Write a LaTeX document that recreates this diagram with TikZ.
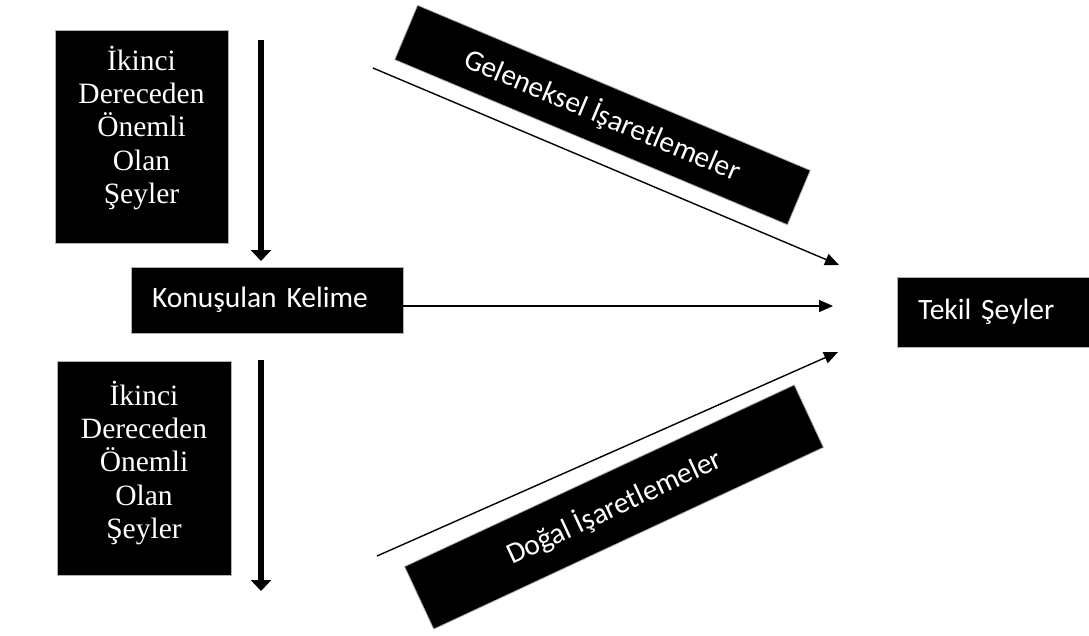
\documentclass[tikz,border=0pt]{standalone}
\usepackage{fontspec}
\setmainfont{Liberation Serif}
\newfontfamily\calibri{Carlito}
\usetikzlibrary{arrows.meta}

\begin{document}
\begin{tikzpicture}[x=1pt, y=-1pt,
    kutu/.style={fill=black, draw=gray!60, line width=0.8pt, inner sep=0pt},
    serifyazi/.style={text=white, align=center, inner sep=0pt, anchor=north, font=\fontsize{29.5}{33.3}\selectfont},
    sansyazi/.style={text=white, font=\calibri\fontsize{29.5}{34}\selectfont},
    kalin ok/.style={line width=6pt, -{Triangle[length=11pt, width=20pt]}},
    ince ok/.style={line width=1.4pt, -{Triangle[length=14pt, width=12pt]}}]
  \useasboundingbox (0,0) rectangle (1089,635);

  % Left boxes (serif text, set near the top)
  \node[kutu, minimum width=173, minimum height=213] (ustkutu) at (141.5,136.5) {};
  \node[serifyazi] (ustyazi) at ([yshift=-16pt]ustkutu.north) {İkinci\\Dereceden\\Önemli\\Olan\\Şeyler};
  \node[kutu, minimum width=174, minimum height=214] (altkutu) at (144,468) {};
  \node[serifyazi] (altyazi) at ([yshift=-20pt]altkutu.north) {İkinci\\Dereceden\\Önemli\\Olan\\Şeyler};

  % Middle and right boxes
  \node[kutu, sansyazi, minimum width=272, minimum height=66, text width=230, inner xsep=21, align=left] (konusulan) at (267,300) {Konuşulan Kelime};
  \node[kutu, sansyazi, minimum width=193, minimum height=70, text width=151, inner xsep=21, align=left] (tekil) at (993.5,312) {Tekil Şeyler};

  % Slanted boxes
  \node[kutu, sansyazi, rotate=-22.8, minimum width=426, minimum height=59] (geleneksel) at (602.5,115) {Geleneksel İşaretlemeler};
  \node[kutu, sansyazi, rotate=25, minimum width=430, minimum height=69] (dogal) at (614,507) {Doğal İşaretlemeler};

  % Thick downward arrows
  \coordinate (ust1) at (261,40);
  \coordinate (ust2) at (261,261);
  \coordinate (alt1) at (261,360);
  \coordinate (alt2) at (261,591);
  \draw[kalin ok] (ust1) -- (ust2);
  \draw[kalin ok] (alt1) -- (alt2);

  % Thin arrows towards Tekil Seyler
  \coordinate (gelbas) at (373,68);
  \coordinate (geluc) at (839,265);
  \coordinate (yatayuc) at (833,306);
  \coordinate (dogbas) at (377,556);
  \coordinate (doguc) at (838,352);
  \draw[ince ok] (gelbas) -- (geluc);
  \draw[ince ok] ([yshift=-6pt]konusulan.east) -- (yatayuc);
  \draw[ince ok] (dogbas) -- (doguc);
\end{tikzpicture}
\end{document}
